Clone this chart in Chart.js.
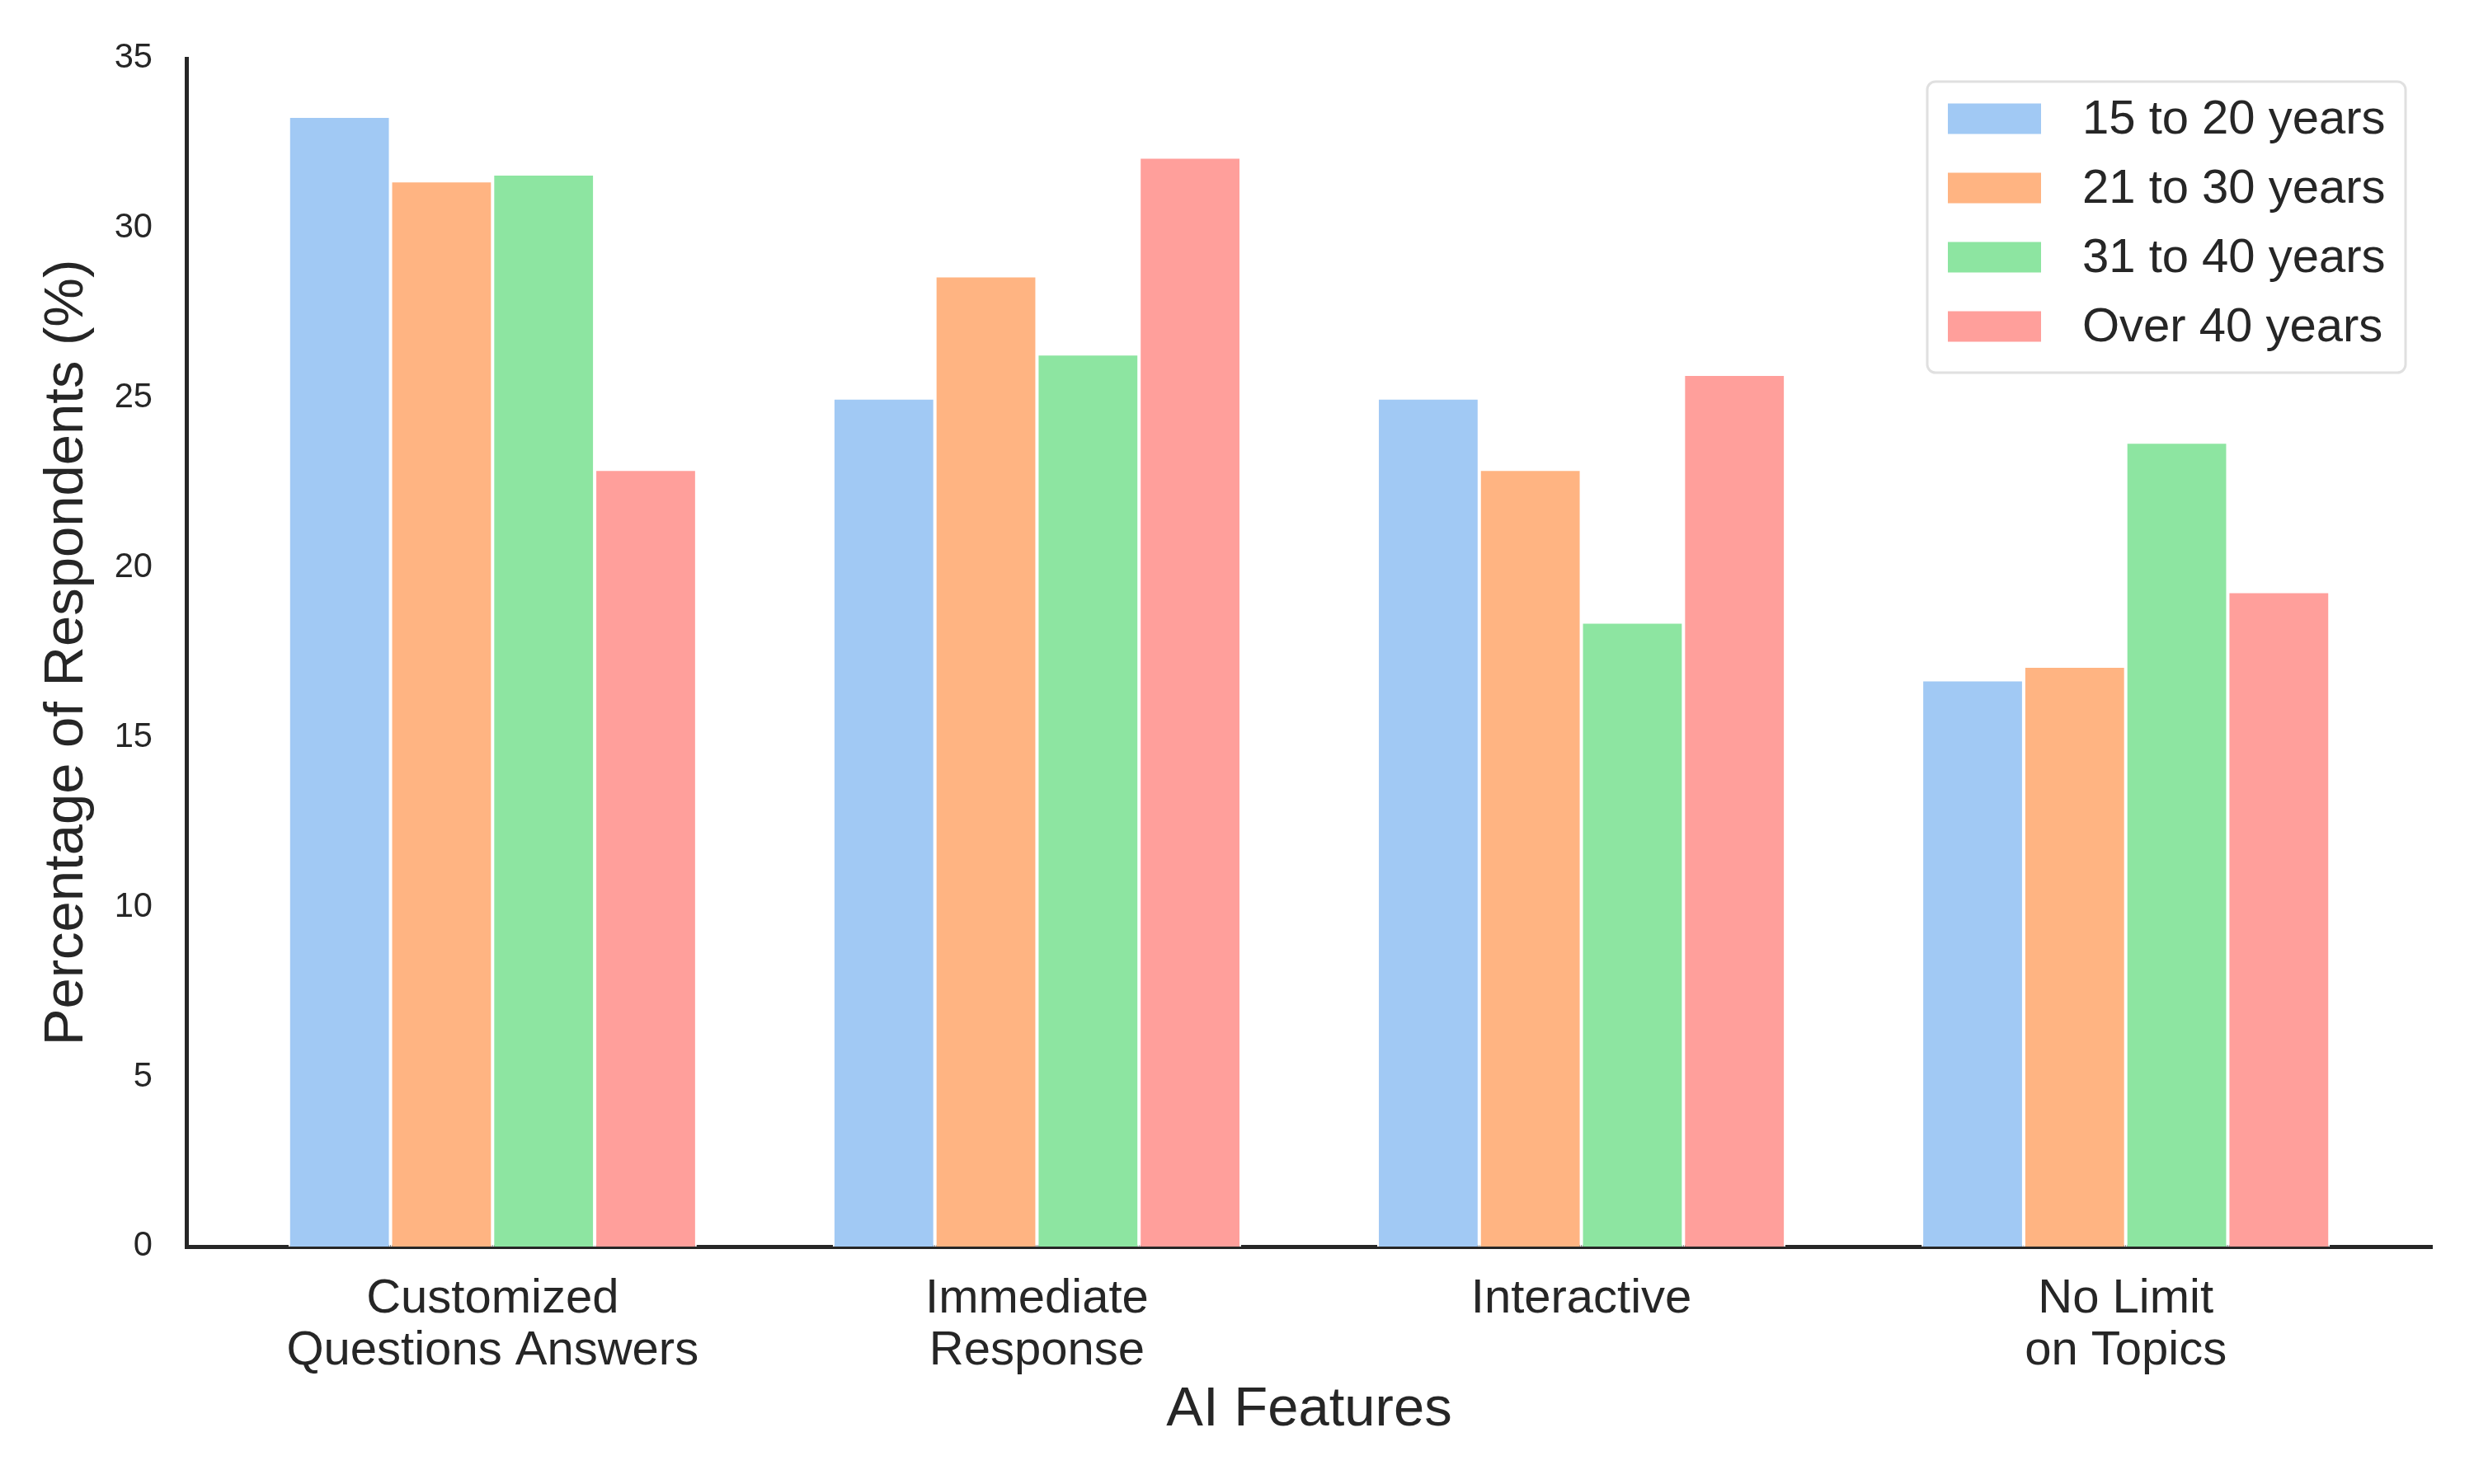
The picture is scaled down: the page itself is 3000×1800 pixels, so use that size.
<!DOCTYPE html>
<html>
<head>
<meta charset="utf-8">
<script src="https://cdn.jsdelivr.net/npm/chart.js@4.4.1/dist/chart.umd.min.js"></script>
<style>
  html, body { margin: 0; padding: 0; background: #fff; }
  #wrap { width: 3000px; height: 1800px; }
</style>
</head>
<body>
<div id="wrap"><canvas id="chart"></canvas></div>
<script>
const features = [
  ['Customized', 'Questions Answers'],
  ['Immediate', 'Response'],
  ['Interactive'],
  ['No Limit', 'on Topics']
];
const ageGroups = ['15 to 20 years', '21 to 30 years', '31 to 40 years', 'Over 40 years'];

const age15to20 = [33.3, 25.0, 25.0, 16.7];
const age21to30 = [31.4, 28.6, 22.9, 17.1];
const age31to40 = [31.6, 26.3, 18.4, 23.7];
const over40    = [22.9, 32.1, 25.7, 19.3];

const yTicks = [0, 5, 10, 15, 20, 25, 30, 35];

const colors = ['#a1c9f4', '#ffb482', '#8de5a1', '#ff9f9b'];
const textColor = '#262626';
const fontFamily = '"Liberation Sans", Arial, sans-serif';

Chart.defaults.font.family = fontFamily;
Chart.defaults.color = textColor;

const seriesValues = [age15to20, age21to30, age31to40, over40];

// legend box drawn in the upper right of the plot, like matplotlib's 'best'
const boxLegend = {
  id: 'boxLegend',
  afterDraw(chart) {
    const { ctx, chartArea } = chart;
    const x0 = chartArea.right - 612, y0 = chartArea.top + 28;
    ctx.save();
    ctx.beginPath();
    ctx.roundRect(x0, y0, 580, 353, 10);
    ctx.fillStyle = 'rgba(255,255,255,0.8)';
    ctx.fill();
    ctx.lineWidth = 3;
    ctx.strokeStyle = '#e0e0e0';
    ctx.stroke();
    ctx.font = '58px ' + fontFamily;
    ctx.textBaseline = 'middle';
    ctx.textAlign = 'left';
    chart.data.datasets.forEach((ds, i) => {
      const cy = y0 + 45 + i * 84;
      ctx.fillStyle = ds.backgroundColor;
      ctx.fillRect(x0 + 25, cy - 18.5, 113, 37);
      ctx.fillStyle = textColor;
      ctx.fillText(ds.label, x0 + 188, cy + 2);
    });
    ctx.restore();
  }
};

new Chart(document.getElementById('chart'), {
  type: 'bar',
  data: {
    datasets: ageGroups.map((name, i) => ({
      label: name,
      data: seriesValues[i].map((v, j) => ({ x: j, y: v })),
      backgroundColor: colors[i],
      borderColor: '#ffffff',
      borderWidth: 2,
      categoryPercentage: 0.75,
      barPercentage: 1.0
    }))
  },
  options: {
    responsive: true,
    maintainAspectRatio: false,
    devicePixelRatio: 1,
    animation: false,
    layout: { padding: { left: 0, right: 51, top: 71, bottom: 0 } },
    plugins: {
      legend: { display: false },
      tooltip: { enabled: false }
    },
    scales: {
      x: {
        type: 'linear',
        offset: false,
        min: -0.5625,
        max: 3.5625,
        afterBuildTicks: (axis) => {
          axis.ticks = features.map((f, i) => ({ value: i }));
        },
        afterFit: (axis) => { axis.height = 288; },
        grid: { display: false, drawTicks: false },
        border: { display: true, color: textColor, width: 5 },
        ticks: {
          autoSkip: false,
          maxRotation: 0,
          padding: 33,
          font: { size: 58, lineHeight: 1.08 },
          color: textColor,
          callback: (value, index) => features[index]
        },
        title: {
          display: true,
          text: 'AI Features',
          font: { size: 67, lineHeight: 1.2 },
          color: textColor,
          padding: { top: 0, bottom: 49 }
        }
      },
      y: {
        min: 0,
        max: 35,
        afterBuildTicks: (axis) => {
          axis.ticks = yTicks.map(v => ({ value: v }));
        },
        afterFit: (axis) => { axis.width = 226; },
        grid: { display: false, drawTicks: false },
        border: { display: true, color: textColor, width: 5 },
        ticks: {
          padding: 41,
          font: { size: 41.7 },
          color: textColor
        },
        title: {
          display: true,
          text: 'Percentage of Respondents (%)',
          font: { size: 67, lineHeight: 1.2 },
          color: textColor,
          padding: { top: 41, bottom: 0 }
        }
      }
    }
  },
  plugins: [boxLegend]
});
</script>
</body>
</html>
